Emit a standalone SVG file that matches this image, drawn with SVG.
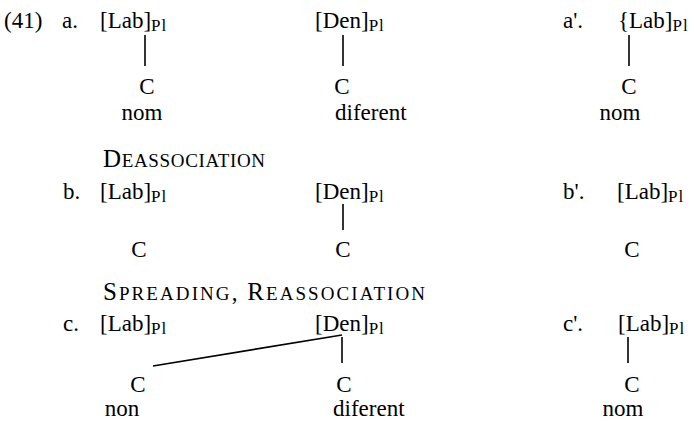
<svg xmlns="http://www.w3.org/2000/svg" width="694" height="421" viewBox="0 0 694 421">
<style>
text{font-family:"Liberation Serif","Times New Roman",serif;font-size:23px;fill:#000}
.sub{font-size:17px;letter-spacing:1px}
.sc{font-size:19px}
.cap{font-size:25px}
.mid{text-anchor:middle}
#connectors line{stroke:#000;stroke-width:1.6;stroke-linecap:butt}
</style>
<rect width="694" height="421" fill="#fff"/>
<g id="connectors">
<line x1="145" y1="35" x2="145" y2="66"/>
<line x1="343" y1="35" x2="343" y2="66"/>
<line x1="629" y1="35" x2="629" y2="66"/>
<line x1="343" y1="204" x2="343" y2="230"/>
<line x1="342" y1="337" x2="342" y2="363"/>
<line x1="342" y1="335" x2="153" y2="366"/>
<line x1="628" y1="337" x2="628" y2="363"/>
</g>
<g id="ex-number"><text x="4" y="28">(41)</text></g>
<g id="label-a"><text x="62" y="28">a.</text></g>
<g id="a-lab"><text x="100" y="28">[Lab]<tspan class="sub" dy="3">Pl</tspan></text></g>
<g id="a-den"><text x="315" y="28">[Den]<tspan class="sub" dy="3">Pl</tspan></text></g>
<g id="a-C1"><text class="mid" x="147" y="94">C</text></g>
<g id="a-C2"><text class="mid" x="342" y="94">C</text></g>
<g id="a-nom"><text class="mid" x="142" y="120">nom</text></g>
<g id="a-diferent"><text x="335" y="120">diferent</text></g>
<g id="label-a-prime"><text x="563" y="28">a'.</text></g>
<g id="ap-lab"><text x="618" y="28">{Lab]<tspan class="sub" dy="3">Pl</tspan></text></g>
<g id="ap-C"><text class="mid" x="629" y="94">C</text></g>
<g id="ap-nom"><text class="mid" x="620" y="120">nom</text></g>

<g id="title-b"><text x="103" y="167" textLength="162" lengthAdjust="spacing"><tspan class="cap">D</tspan><tspan class="sc">EASSOCIATION</tspan></text></g>
<g id="label-b"><text x="63" y="199">b.</text></g>
<g id="b-lab"><text x="100" y="199">[Lab]<tspan class="sub" dy="3">Pl</tspan></text></g>
<g id="b-den"><text x="315" y="199">[Den]<tspan class="sub" dy="3">Pl</tspan></text></g>
<g id="b-C1"><text class="mid" x="139" y="257">C</text></g>
<g id="b-C2"><text class="mid" x="343" y="257">C</text></g>
<g id="label-b-prime"><text x="563" y="199">b'.</text></g>
<g id="bp-lab"><text x="617" y="199">[Lab]<tspan class="sub" dy="3">Pl</tspan></text></g>
<g id="bp-C"><text class="mid" x="632" y="257">C</text></g>

<g id="title-c"><text x="103" y="300" textLength="322" lengthAdjust="spacing"><tspan class="cap">S</tspan><tspan class="sc">PREADING</tspan>, <tspan class="cap">R</tspan><tspan class="sc">EASSOCIATION</tspan></text></g>
<g id="label-c"><text x="63" y="331">c.</text></g>
<g id="c-lab"><text x="100" y="331">[Lab]<tspan class="sub" dy="3">Pl</tspan></text></g>
<g id="c-den"><text x="315" y="331">[Den]<tspan class="sub" dy="3">Pl</tspan></text></g>
<g id="c-C1"><text class="mid" x="138" y="392">C</text></g>
<g id="c-C2"><text class="mid" x="344" y="392">C</text></g>
<g id="c-non"><text class="mid" x="122" y="416">non</text></g>
<g id="c-diferent"><text x="333" y="416">diferent</text></g>
<g id="label-c-prime"><text x="563" y="331">c'.</text></g>
<g id="cp-lab"><text x="618" y="331">[Lab]<tspan class="sub" dy="3">Pl</tspan></text></g>
<g id="cp-C"><text class="mid" x="632" y="392">C</text></g>
<g id="cp-nom"><text class="mid" x="623" y="416">nom</text></g>
</svg>
